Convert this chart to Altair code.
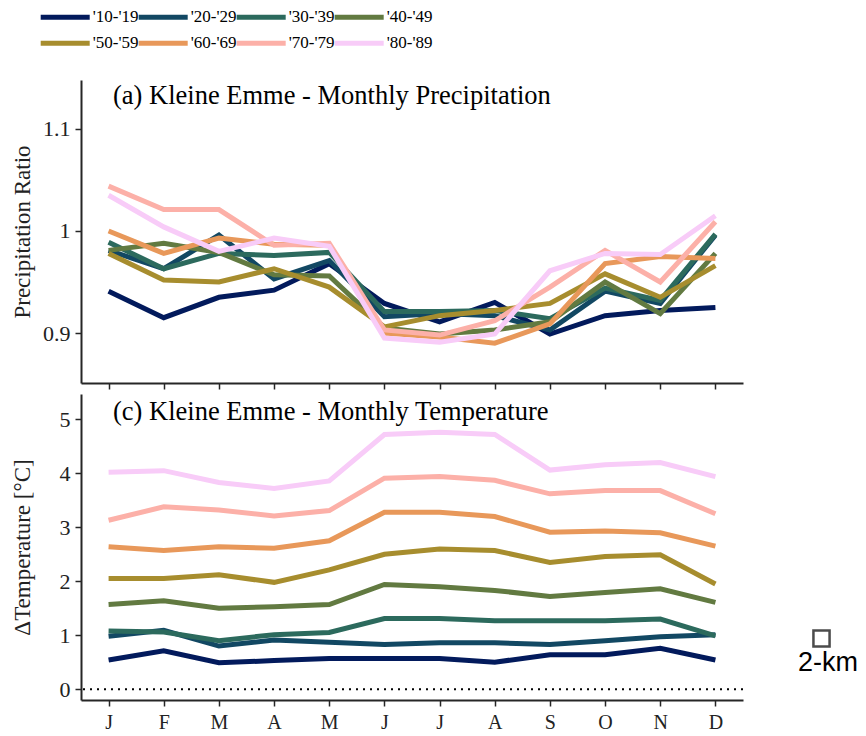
import altair as alt
import pandas as pd

# Month letters for the x axis
months = ["J", "F", "M", "A", "M", "J", "J", "A", "S", "O", "N", "D"]

# Decades and their line colours
periods = ["'10-'19", "'20-'29", "'30-'39", "'40-'49",
           "'50-'59", "'60-'69", "'70-'79", "'80-'89"]
colors = ["#021a5c", "#124863", "#2c6a5d", "#627a41",
          "#a78d2e", "#e8985a", "#fcb0a8", "#f8ccf8"]

# Monthly precipitation ratio per decade (Jan..Dec)
precip_10 = [0.941, 0.915, 0.935, 0.942, 0.968, 0.929, 0.911, 0.930, 0.899, 0.917, 0.922, 0.925]
precip_20 = [0.981, 0.963, 0.996, 0.953, 0.971, 0.916, 0.919, 0.917, 0.903, 0.941, 0.929, 0.996]
precip_30 = [0.989, 0.963, 0.978, 0.976, 0.979, 0.921, 0.921, 0.922, 0.914, 0.944, 0.932, 0.997]
precip_40 = [0.981, 0.988, 0.979, 0.957, 0.956, 0.905, 0.899, 0.903, 0.911, 0.950, 0.919, 0.978]
precip_50 = [0.978, 0.952, 0.950, 0.963, 0.945, 0.906, 0.917, 0.922, 0.929, 0.958, 0.935, 0.966]
precip_60 = [1.000, 0.978, 0.993, 0.987, 0.986, 0.900, 0.896, 0.890, 0.909, 0.968, 0.975, 0.973]
precip_70 = [1.044, 1.021, 1.021, 0.986, 0.988, 0.903, 0.898, 0.912, 0.945, 0.981, 0.950, 1.009]
precip_80 = [1.035, 1.004, 0.980, 0.993, 0.985, 0.895, 0.891, 0.899, 0.961, 0.978, 0.977, 1.015]

# Monthly temperature change per decade [°C] (Jan..Dec)
temp_10 = [0.54, 0.71, 0.49, 0.53, 0.57, 0.57, 0.57, 0.50, 0.64, 0.64, 0.76, 0.54]
temp_20 = [0.98, 1.09, 0.80, 0.91, 0.87, 0.83, 0.86, 0.86, 0.83, 0.90, 0.97, 1.01]
temp_30 = [1.08, 1.06, 0.90, 1.01, 1.05, 1.31, 1.31, 1.27, 1.27, 1.27, 1.30, 0.99]
temp_40 = [1.57, 1.64, 1.50, 1.53, 1.57, 1.94, 1.90, 1.83, 1.72, 1.79, 1.86, 1.61]
temp_50 = [2.05, 2.05, 2.12, 1.98, 2.21, 2.50, 2.60, 2.57, 2.35, 2.46, 2.49, 1.95]
temp_60 = [2.64, 2.57, 2.64, 2.61, 2.75, 3.28, 3.28, 3.20, 2.91, 2.93, 2.90, 2.65]
temp_70 = [3.13, 3.38, 3.32, 3.21, 3.31, 3.91, 3.94, 3.87, 3.62, 3.68, 3.68, 3.25]
temp_80 = [4.02, 4.05, 3.83, 3.72, 3.86, 4.72, 4.76, 4.72, 4.06, 4.16, 4.20, 3.94]

precip_series = [precip_10, precip_20, precip_30, precip_40,
                 precip_50, precip_60, precip_70, precip_80]
temp_series = [temp_10, temp_20, temp_30, temp_40,
               temp_50, temp_60, temp_70, temp_80]

rows = []
for p, pr, tm in zip(periods, precip_series, temp_series):
    for i in range(12):
        rows.append({"period": p, "month": i, "precip": pr[i], "temp": tm[i]})
df = pd.DataFrame(rows)

legend_df = pd.DataFrame({
    "period": periods,
    "col": [i % 4 for i in range(len(periods))],
    "row": [i // 4 for i in range(len(periods))],
})
legend_df["col_end"] = legend_df["col"] + 0.5

SERIF = "Liberation Serif"
AXIS_COLOR = "#262626"
W = 662

color_scale = alt.Scale(domain=periods, range=colors)
label_js = "[" + ",".join("'%s'" % m for m in months) + "][datum.value]"

x_top = alt.X("month:Q", scale=alt.Scale(domain=[-0.5, 11.5], nice=False, zero=False),
              axis=alt.Axis(values=list(range(12)), labels=False, title=None))
x_bot = alt.X("month:Q", scale=alt.Scale(domain=[-0.5, 11.5], nice=False, zero=False),
              axis=alt.Axis(values=list(range(12)), labelExpr=label_js, title=None,
                            labelFontSize=20, labelPadding=6))

# Legend built as a small chart: stroke swatches with labels
leg_x = alt.Scale(domain=[0, 1], range=[-40.3, 57.7])
leg_y = alt.Scale(domain=[0, 1], range=[12.3, 38.3])
legend_rules = alt.Chart(legend_df).mark_rule(strokeWidth=5, strokeCap="butt").encode(
    x=alt.X("col:Q", scale=leg_x, axis=None),
    x2="col_end:Q",
    y=alt.Y("row:Q", scale=leg_y, axis=None),
    color=alt.Color("period:N", scale=color_scale, legend=None),
)
legend_text = alt.Chart(legend_df).mark_text(
    align="left", baseline="middle", dx=3, font=SERIF, fontSize=17, color="black"
).encode(
    x=alt.X("col_end:Q", scale=leg_x, axis=None),
    y=alt.Y("row:Q", scale=leg_y, axis=None),
    text="period:N",
)
legend = alt.layer(legend_rules, legend_text).properties(width=W, height=71)

# (a) precipitation panel
prec_lines = alt.Chart(df).mark_line(strokeWidth=5, strokeJoin="miter").encode(
    x=x_top,
    y=alt.Y("precip:Q", scale=alt.Scale(domain=[0.851, 1.148], nice=False, zero=False),
            axis=alt.Axis(values=[0.9, 1.0, 1.1], format="~g", title="Precipitation Ratio",
                          titlePadding=8)),
    color=alt.Color("period:N", scale=color_scale, legend=None),
    order="month:Q",
)
prec_title = alt.Chart(pd.DataFrame({"t": ["(a) Kleine Emme - Monthly Precipitation"]})).mark_text(
    align="left", baseline="alphabetic", font=SERIF, fontSize=26.5, color="black"
).encode(x=alt.value(32), y=alt.value(24), text="t:N")
top = alt.layer(prec_lines, prec_title).properties(width=W, height=303)

# (c) temperature panel
zero_line = alt.Chart(pd.DataFrame({"y": [0]})).mark_rule(
    color="black", strokeWidth=2, strokeDash=[2, 5]
).encode(y=alt.Y("y:Q"))
temp_lines = alt.Chart(df).mark_line(strokeWidth=5, strokeJoin="miter").encode(
    x=x_bot,
    y=alt.Y("temp:Q", scale=alt.Scale(domain=[-0.2, 5.47], nice=False, zero=False),
            axis=alt.Axis(values=[0, 1, 2, 3, 4, 5], title="\u0394Temperature [\u00b0C]",
                          titlePadding=25)),
    color=alt.Color("period:N", scale=color_scale, legend=None),
    order="month:Q",
)
temp_title = alt.Chart(pd.DataFrame({"t": ["(c) Kleine Emme - Monthly Temperature"]})).mark_text(
    align="left", baseline="alphabetic", font=SERIF, fontSize=26.5, color="black"
).encode(x=alt.value(32), y=alt.value(26), text="t:N")
km_box = alt.Chart(pd.DataFrame({"k": ["2-km"]})).mark_point(
    shape="square", size=260, filled=False, color="black", strokeWidth=2.5
).encode(x=alt.value(740.5), y=alt.value(244.5))
km_text = alt.Chart(pd.DataFrame({"k": ["2-km"]})).mark_text(
    align="center", baseline="alphabetic", font="Liberation Sans", fontSize=27, color="black"
).encode(x=alt.value(747), y=alt.value(277), text="k:N")
bottom = alt.layer(zero_line, temp_lines, temp_title, km_box, km_text).properties(width=W, height=306)

chart = alt.vconcat(legend, top, bottom, spacing=4).properties(
    padding={"left": 11, "top": 5, "right": 5, "bottom": 5}
).configure_view(stroke=None).configure_axis(
    domainColor=AXIS_COLOR, domainWidth=2, tickColor=AXIS_COLOR, tickWidth=1.5,
    tickSize=6, grid=False, labelFont=SERIF, labelFontSize=22, labelColor="#222222",
    titleFont=SERIF, titleFontSize=23, titleFontWeight="normal", titleColor="#222222",
    labelPadding=5,
)

chart.save("out.html", embed_options={"renderer": "svg", "actions": False})
